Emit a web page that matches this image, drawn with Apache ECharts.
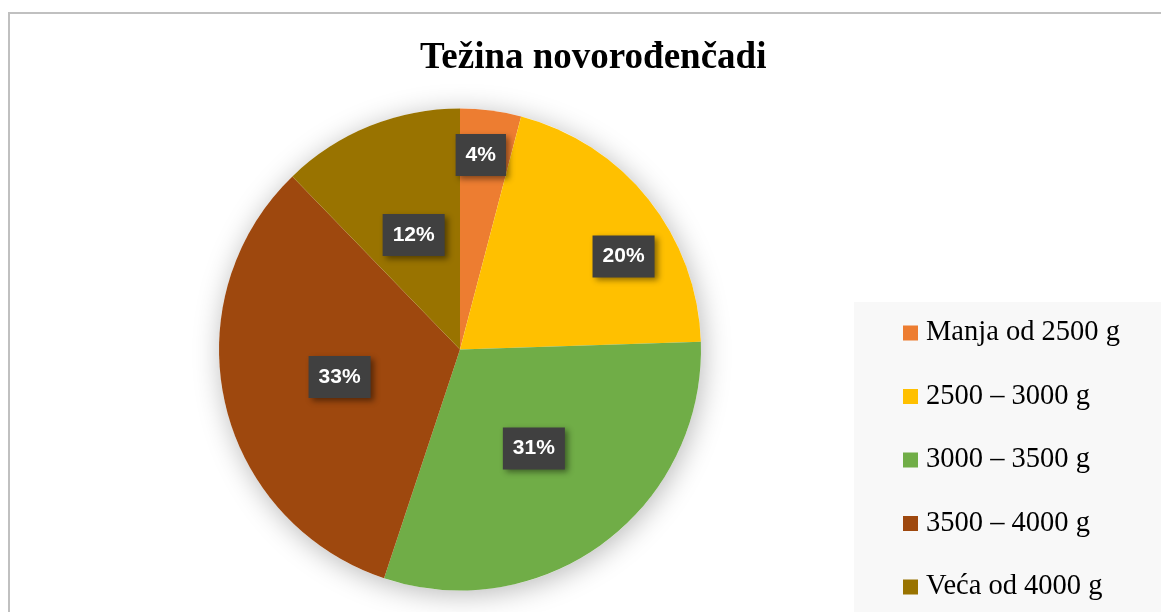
<!DOCTYPE html>
<html>
<head>
<meta charset="utf-8">
<title>Težina novorođenčadi</title>
<script src="https://cdn.jsdelivr.net/npm/echarts@6/dist/echarts.min.js"></script>
<style>
  html, body { margin: 0; padding: 0; background: #fff; }
  #chart { width: 1161px; height: 612px; }
</style>
</head>
<body>
<div id="chart"></div>
<script>
// data (slice angles fit counts out of 49 newborns)
const categories = ['Manja od 2500 g', '2500 – 3000 g', '3000 – 3500 g', '3500 – 4000 g', 'Veća od 4000 g']
const values = [2, 10, 15, 16, 6]
const colors = ['#ED7D31', '#FFC000', '#70AD47', '#9E480E', '#997300']

// the first two labels were dragged outwards in the original
const labelShift = { 0: [5, -72], 1: [67, -16] }

const chart = echarts.init(document.getElementById('chart'))

chart.setOption({
  animation: false,
  title: {
    text: 'Težina novorođenčadi',
    left: 415,
    top: 35,
    textStyle: {
      fontFamily: 'Liberation Serif',
      fontWeight: 'bold',
      fontSize: 37,
      color: '#000'
    }
  },
  legend: {
    orient: 'vertical',
    left: 903,
    top: 318,
    padding: 0,
    icon: 'rect',
    itemWidth: 15,
    itemHeight: 15,
    itemGap: 33.5,
    data: categories,
    textStyle: {
      fontFamily: 'Liberation Serif',
      fontSize: 28.5,
      lineHeight: 30,
      color: '#000',
      padding: [0, 0, 0, 3]
    }
  },
  graphic: [
    {
      // outer chart frame, cut by the right and bottom edges
      type: 'rect',
      z: -10,
      silent: true,
      shape: { x: 9, y: 13, width: 1300, height: 800 },
      style: { fill: 'none', stroke: '#c0c0c0', lineWidth: 2 }
    },
    {
      // legend box
      type: 'rect',
      z: -5,
      silent: true,
      shape: { x: 854, y: 302, width: 400, height: 400 },
      style: { fill: '#f8f8f8' }
    }
  ],
  series: [
    {
      // shadow underneath the whole pie
      type: 'pie',
      silent: true,
      center: [460, 349.5],
      radius: 241,
      z: 1,
      label: { show: false },
      labelLine: { show: false },
      itemStyle: {
        color: '#fff',
        shadowBlur: 28,
        shadowColor: 'rgba(0,0,0,0.28)',
        shadowOffsetX: 2,
        shadowOffsetY: 4
      },
      data: [1]
    },
    {
      type: 'pie',
      center: [460, 349.5],
      radius: 241,
      startAngle: 90,
      clockwise: true,
      percentPrecision: 0,
      z: 2,
      color: colors,
      itemStyle: { borderWidth: 0 },
      emphasis: { disabled: true },
      label: {
        show: true,
        position: 'inside',
        formatter: '{d}%',
        fontFamily: 'Liberation Sans',
        fontWeight: 'bold',
        fontSize: 21,
        lineHeight: 24,
        color: '#fff',
        backgroundColor: '#404040',
        padding: [9, 10, 9, 10],
        shadowBlur: 6,
        shadowColor: 'rgba(0,0,0,0.45)',
        shadowOffsetX: 3,
        shadowOffsetY: 3
      },
      labelLayout: function (params) {
        const s = labelShift[params.dataIndex]
        return s ? { dx: s[0], dy: s[1] } : {}
      },
      data: categories.map((name, i) => ({ name: name, value: values[i] }))
    }
  ]
})
</script>
</body>
</html>
